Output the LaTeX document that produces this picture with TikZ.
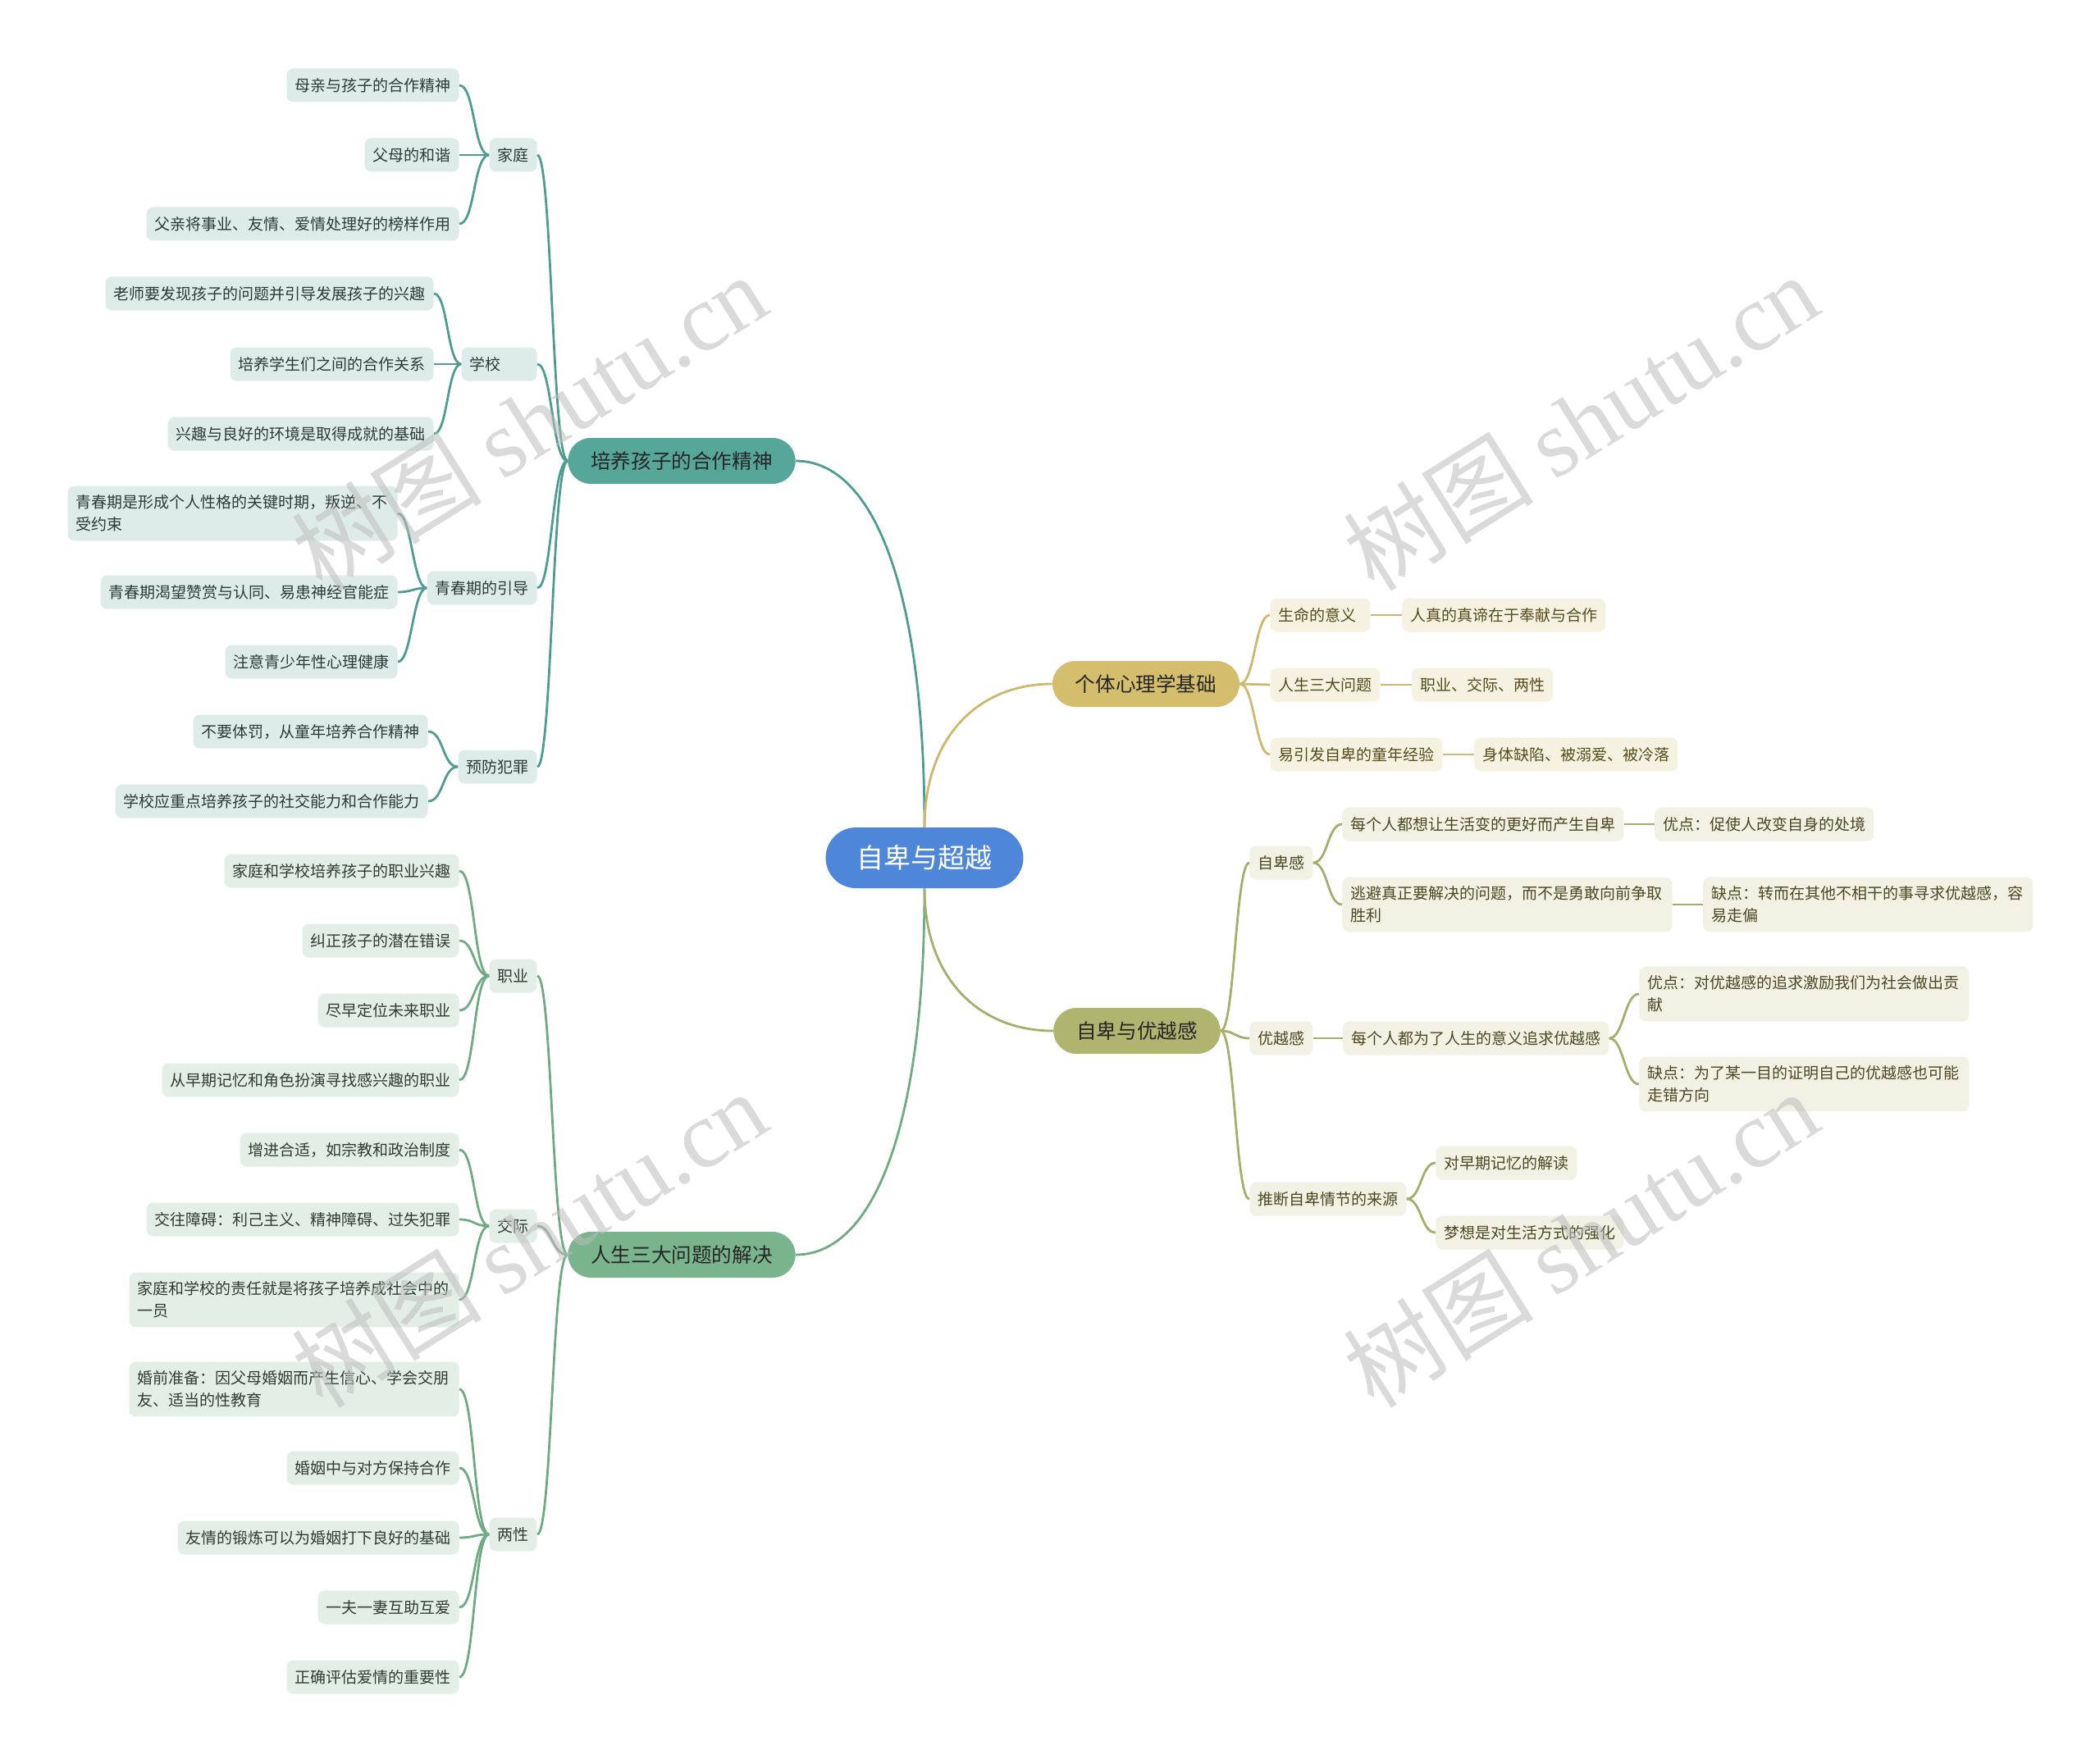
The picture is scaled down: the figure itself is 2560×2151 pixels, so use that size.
\documentclass[tikz,border=0pt]{standalone}
\usepackage{fontspec}
\setmainfont{Noto Sans CJK SC}
\newfontfamily\marklatin{Liberation Serif}
\usetikzlibrary{positioning}

\definecolor{cRoot}{HTML}{4E86DA}
\definecolor{cTealMain}{HTML}{56A69A}
\definecolor{cTealFill}{HTML}{DEECE9}
\definecolor{cTealLine}{HTML}{4F9C90}
\definecolor{cTealText}{HTML}{2D3B38}
\definecolor{cGreenMain}{HTML}{79B48C}
\definecolor{cGreenFill}{HTML}{E3EFE6}
\definecolor{cGreenLine}{HTML}{6FAA83}
\definecolor{cGreenText}{HTML}{2E3D33}
\definecolor{cGoldMain}{HTML}{D4BD6C}
\definecolor{cGoldFill}{HTML}{F6F2E1}
\definecolor{cGoldLine}{HTML}{CDB86D}
\definecolor{cGoldText}{HTML}{574A1C}
\definecolor{cOliveMain}{HTML}{AFB46F}
\definecolor{cOliveFill}{HTML}{F1F1E4}
\definecolor{cOliveLine}{HTML}{A7AD6B}
\definecolor{cOliveText}{HTML}{474A22}
\definecolor{cMark}{HTML}{BDBDBD}

\tikzset{
  rootnode/.style={fill=cRoot, text=white, rounded corners=18.5pt, minimum height=37pt,
    inner xsep=19pt, inner ysep=0pt, font=\fontsize{16.5}{20}\selectfont},
  mainnode/.style={rounded corners=14pt, minimum height=28pt, inner xsep=14pt,
    inner ysep=0pt, text=black!85, font=\fontsize{12.3}{15}\selectfont},
  leafbox/.style={rounded corners=4pt, minimum height=20.5pt, inner xsep=5pt,
    inner ysep=5.5pt, align=left, font=\fontsize{9.5}{13.5}\selectfont},
  tealleaf/.style={leafbox, fill=cTealFill, text=cTealText, anchor=east},
  greenleaf/.style={leafbox, fill=cGreenFill, text=cGreenText, anchor=east},
  goldleaf/.style={leafbox, fill=cGoldFill, text=cGoldText, anchor=west},
  oliveleaf/.style={leafbox, fill=cOliveFill, text=cOliveText, anchor=west},
  wrapbox/.style={text width=191pt},
  tealink/.style={draw=cTealLine, line width=1.4pt},
  greenink/.style={draw=cGreenLine, line width=1.4pt},
  goldink/.style={draw=cGoldLine, line width=1.4pt},
  oliveink/.style={draw=cOliveLine, line width=1.4pt},
  watermark/.style={rotate=32, text=cMark, opacity=0.55, inner sep=0pt,
    font=\fontsize{58}{58}\selectfont}
}

\begin{document}
\begin{tikzpicture}[x=0.5pt, y=-0.5pt]

  \fill[white] (0,0) rectangle (2560,2151);
  \useasboundingbox (0,0) rectangle (2560,2151);

  % -- Root --
  \node[rootnode] (root) at (1127,1046) {自卑与超越};

  % -- Main branches --
  \node[mainnode, fill=cTealMain] (coop) at (831,562) {培养孩子的合作精神};
  \node[mainnode, fill=cGreenMain] (solve) at (831,1530) {人生三大问题的解决};
  \node[mainnode, fill=cGoldMain] (basis) at (1397,834) {个体心理学基础};
  \node[mainnode, fill=cOliveMain] (inferior) at (1386,1257) {自卑与优越感};

  % -- Cooperation: family, school, youth, crime --
  \node[tealleaf] (family) at (655,189) {家庭};
  \node[tealleaf] (f1) at (560,104) {母亲与孩子的合作精神};
  \node[tealleaf] (f2) at (560,189) {父母的和谐};
  \node[tealleaf] (f3) at (560,273) {父亲将事业、友情、爱情处理好的榜样作用};

  \node[tealleaf, text width=36pt] (school) at (655,444) {学校};
  \node[tealleaf] (s1) at (529,358) {老师要发现孩子的问题并引导发展孩子的兴趣};
  \node[tealleaf] (s2) at (529,444) {培养学生们之间的合作关系};
  \node[tealleaf] (s3) at (529,529) {兴趣与良好的环境是取得成就的基础};

  \node[tealleaf] (youth) at (655,717) {青春期的引导};
  \node[tealleaf, wrapbox] (y1) at (485,626) {青春期是形成个人性格的关键时期，叛逆、不\\受约束};
  \node[tealleaf] (y2) at (485,722) {青春期渴望赞赏与认同、易患神经官能症};
  \node[tealleaf] (y3) at (485,807) {注意青少年性心理健康};

  \node[tealleaf] (crime) at (655,935) {预防犯罪};
  \node[tealleaf] (c1) at (522,892) {不要体罚，从童年培养合作精神};
  \node[tealleaf] (c2) at (522,977) {学校应重点培养孩子的社交能力和合作能力};

  % -- Three problems: career, social, sex --
  \node[greenleaf] (career) at (655,1190) {职业};
  \node[greenleaf] (k1) at (560,1062) {家庭和学校培养孩子的职业兴趣};
  \node[greenleaf] (k2) at (560,1147) {纠正孩子的潜在错误};
  \node[greenleaf] (k3) at (560,1232) {尽早定位未来职业};
  \node[greenleaf] (k4) at (560,1317) {从早期记忆和角色扮演寻找感兴趣的职业};

  \node[greenleaf] (social) at (655,1495) {交际};
  \node[greenleaf] (j1) at (560,1402) {增进合适，如宗教和政治制度};
  \node[greenleaf] (j2) at (560,1487) {交往障碍：利己主义、精神障碍、过失犯罪};
  \node[greenleaf, wrapbox] (j3) at (560,1585) {家庭和学校的责任就是将孩子培养成社会中的\\一员};

  \node[greenleaf] (sex) at (655,1871) {两性};
  \node[greenleaf, wrapbox] (m1) at (560,1694) {婚前准备：因父母婚姻而产生信心、学会交朋\\友、适当的性教育};
  \node[greenleaf] (m2) at (560,1790) {婚姻中与对方保持合作};
  \node[greenleaf] (m3) at (560,1875) {友情的锻炼可以为婚姻打下良好的基础};
  \node[greenleaf] (m4) at (560,1960) {一夫一妻互助互爱};
  \node[greenleaf] (m5) at (560,2045) {正确评估爱情的重要性};

  % -- Individual psychology basis --
  \node[goldleaf, text width=51pt] (meaning) at (1548,750) {生命的意义};
  \node[goldleaf, right=19pt of meaning] (meaning1) {人真的真谛在于奉献与合作};
  \node[goldleaf] (three) at (1548,835) {人生三大问题};
  \node[goldleaf, right=19pt of three] (three1) {职业、交际、两性};
  \node[goldleaf] (child) at (1548,920) {易引发自卑的童年经验};
  \node[goldleaf, right=19pt of child] (child1) {身体缺陷、被溺爱、被冷落};

  % -- Inferiority and superiority --
  \node[oliveleaf] (infe) at (1523,1052) {自卑感};
  \node[oliveleaf] (infe1) at (1636,1005) {每个人都想让生活变的更好而产生自卑};
  \node[oliveleaf, right=18.5pt of infe1] (infe1a) {优点：促使人改变自身的处境};
  \node[oliveleaf, wrapbox] (infe2) at (1636,1103) {逃避真正要解决的问题，而不是勇敢向前争取\\胜利};
  \node[oliveleaf, wrapbox, right=18.5pt of infe2] (infe2a) {缺点：转而在其他不相干的事寻求优越感，容\\易走偏};

  \node[oliveleaf] (supe) at (1523,1266) {优越感};
  \node[oliveleaf, right=18pt of supe] (supe1) {每个人都为了人生的意义追求优越感};
  \node[oliveleaf, wrapbox] (supe1a) at (1998,1212) {优点：对优越感的追求激励我们为社会做出贡\\献};
  \node[oliveleaf, wrapbox] (supe1b) at (1998,1322) {缺点：为了某一目的证明自己的优越感也可能\\走错方向};

  \node[oliveleaf] (source) at (1523,1462) {推断自卑情节的来源};
  \node[oliveleaf] (source1) at (1750,1418) {对早期记忆的解读};
  \node[oliveleaf] (source2) at (1750,1503) {梦想是对生活方式的强化};

  % -- Connectors from root --
  \draw[tealink] (root.north) .. controls +(0,-290) and +(95,0) .. (coop.east);
  \draw[greenink] (root.south) .. controls +(0,290) and +(95,0) .. (solve.east);
  \draw[goldink] (root.north) .. controls +(0,-110) and +(-90,0) .. (basis.west);
  \draw[oliveink] (root.south) .. controls +(0,110) and +(-90,0) .. (inferior.west);

  % -- Teal brackets --
  \foreach \n in {family,school,youth,crime}
    \draw[tealink] (coop.west) .. controls +(-19,0) and +(18,0) .. (\n.east);
  \foreach \n in {f1,f2,f3}
    \draw[tealink] (family.west) .. controls +(-19,0) and +(19,0) .. (\n.east);
  \foreach \n in {s1,s2,s3}
    \draw[tealink] (school.west) .. controls +(-17,0) and +(17,0) .. (\n.east);
  \foreach \n in {y1,y2,y3}
    \draw[tealink] (youth.west) .. controls +(-17,0) and +(17,0) .. (\n.east);
  \foreach \n in {c1,c2}
    \draw[tealink] (crime.west) .. controls +(-19,0) and +(19,0) .. (\n.east);

  % -- Green brackets --
  \foreach \n in {career,social,sex}
    \draw[greenink] (solve.west) .. controls +(-19,0) and +(18,0) .. (\n.east);
  \foreach \n in {k1,k2,k3,k4}
    \draw[greenink] (career.west) .. controls +(-19,0) and +(19,0) .. (\n.east);
  \foreach \n in {j1,j2,j3}
    \draw[greenink] (social.west) .. controls +(-19,0) and +(19,0) .. (\n.east);
  \foreach \n in {m1,m2,m3,m4,m5}
    \draw[greenink] (sex.west) .. controls +(-19,0) and +(19,0) .. (\n.east);

  % -- Gold brackets --
  \foreach \n in {meaning,three,child}
    \draw[goldink] (basis.east) .. controls +(18,0) and +(-18,0) .. (\n.west);
  \draw[goldink] (meaning.east) -- (meaning1.west);
  \draw[goldink] (three.east) -- (three1.west);
  \draw[goldink] (child.east) -- (child1.west);

  % -- Olive brackets --
  \foreach \n in {infe,supe,source}
    \draw[oliveink] (inferior.east) .. controls +(17,0) and +(-17,0) .. (\n.west);
  \foreach \n in {infe1,infe2}
    \draw[oliveink] (infe.east) .. controls +(18,0) and +(-18,0) .. (\n.west);
  \draw[oliveink] (infe1.east) -- (infe1a.west);
  \draw[oliveink] (infe2.east) -- (infe2a.west);
  \draw[oliveink] (supe.east) -- (supe1.west);
  \foreach \n in {supe1a,supe1b}
    \draw[oliveink] (supe1.east) .. controls +(18,0) and +(-18,0) .. (\n.west);
  \foreach \n in {source1,source2}
    \draw[oliveink] (source.east) .. controls +(18,0) and +(-18,0) .. (\n.west);

  % -- Watermarks --
  \node[watermark] (mark1) at (645,514) {树图 {\marklatin shutu.cn}};
  \node[watermark] (mark2) at (1927,514) {树图 {\marklatin shutu.cn}};
  \node[watermark] (mark3) at (645,1510) {树图 {\marklatin shutu.cn}};
  \node[watermark] (mark4) at (1927,1510) {树图 {\marklatin shutu.cn}};

\end{tikzpicture}
\end{document}
